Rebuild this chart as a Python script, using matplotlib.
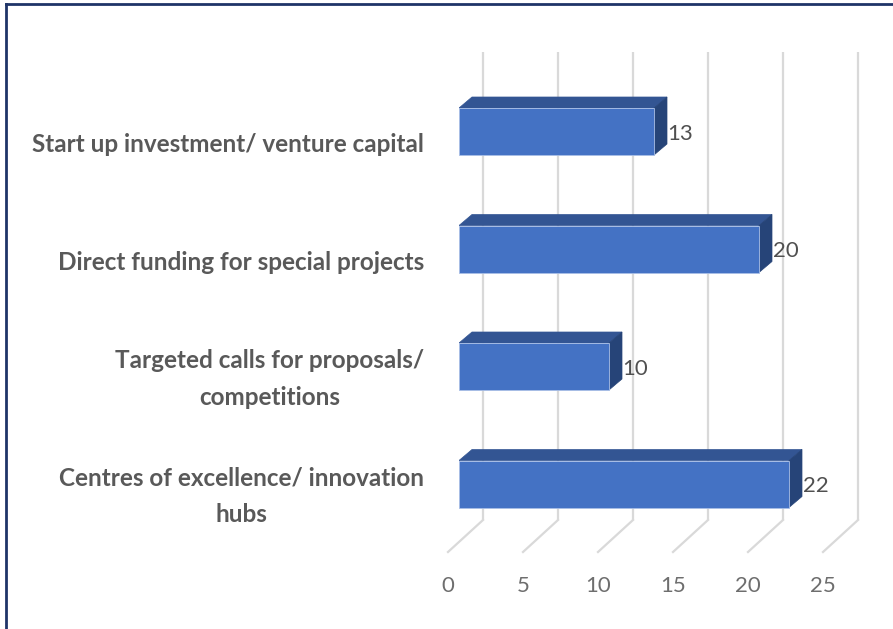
import matplotlib
matplotlib.use('Agg')
import matplotlib.pyplot as plt
from matplotlib.lines import Line2D
from matplotlib.patches import Polygon
from matplotlib.transforms import ScaledTranslation

categories = ['Centres of excellence/ innovation\nhubs',
              'Targeted calls for proposals/\ncompetitions',
              'Direct funding for special projects',
              'Start up investment/ venture capital']
values = [22, 10, 20, 13]
xticks = [0, 5, 10, 15, 20, 25]

plt.rcParams['font.family'] = ['Lato', 'DejaVu Sans']

W, H = 893, 629
px_x = 15.0      # pixels per unit
px_y = 117.5     # pixels per category
left, right, top, bottom = 459, 859, 52, 520

fig = plt.figure(figsize=(W / 100, H / 100), dpi=100)
ax = fig.add_axes([left / W, 1 - bottom / H, (right - left) / W, (bottom - top) / H])
ax.set_xlim(0, (right - left) / px_x)
ax.set_ylim(-(bottom - 484) / px_y, (484 - top) / px_y)
for s in ax.spines.values():
    s.set_visible(False)
ax.patch.set_visible(False)

# 3d look, depth of the bars and floor in pixels
depth_x, depth_y = 13 / px_x, 11 / px_y
bar_h = 47 / px_y
back = ax.transData + ScaledTranslation(24 / 100, 0, fig.dpi_scale_trans)
floor = ax.transData + ScaledTranslation(-11 / 100, -32 / 100, fig.dpi_scale_trans)

for t in xticks:
    # wall line then floor line
    ax.plot([t, t], [ax.get_ylim()[0], ax.get_ylim()[1]], color='#d9d9d9', lw=1.6,
            transform=back, clip_on=False, zorder=1, solid_capstyle='butt')
    x0, y0 = back.transform((t, ax.get_ylim()[0]))
    x1, y1 = floor.transform((t, ax.get_ylim()[0]))
    fig.add_artist(Line2D([x0 / W, x1 / W], [y0 / H, y1 / H], color='#d9d9d9', lw=1.6,
                          transform=fig.transFigure, zorder=1))

for i, v in enumerate(values):
    y0, y1 = i - bar_h / 2, i + bar_h / 2
    ax.add_patch(Polygon([(0, y1), (depth_x, y1 + depth_y), (v + depth_x, y1 + depth_y), (v, y1)],
                         facecolor='#335593', edgecolor='#335593', lw=0.5, zorder=3))
    ax.add_patch(Polygon([(v, y0), (v + depth_x, y0 + depth_y), (v + depth_x, y1 + depth_y), (v, y1)],
                         facecolor='#264478', edgecolor='#264478', lw=0.5, zorder=3))
    ax.barh(i, v, height=bar_h, color='#4472c4', edgecolor='#a9bfe6', lw=0.6, zorder=4)
    ax.annotate(str(v), (v + depth_x, i), xytext=(0.5, -1.5), textcoords='offset points',
                va='center', ha='left', fontsize=16, color='#505050', zorder=5)

ax.set_yticks(range(len(categories)))
ax.set_yticklabels(categories, fontsize=17.5, fontweight='bold', color='#595959',
                   multialignment='center', linespacing=1.7)
ax.tick_params(axis='y', length=0, pad=35 * 0.72)
for lab in ax.get_yticklabels():
    # the two line labels sit higher than the single line ones
    drop = 4 if '\n' in lab.get_text() else 11
    lab.set_transform(lab.get_transform() + ScaledTranslation(0, -drop / 100, fig.dpi_scale_trans))

ax.set_xticks(xticks)
ax.set_xticklabels([str(t) for t in xticks], fontsize=16, color='#6e6e6e')
ax.tick_params(axis='x', length=0, pad=56 * 0.72)
shift = ScaledTranslation(-11 / 100, 0, fig.dpi_scale_trans)
for lab in ax.get_xticklabels():
    lab.set_transform(lab.get_transform() + shift)

# frame of the screenshot, only top and left are visible
fig.add_artist(Line2D([6 / W, 6 / W], [0, 1 - 4 / H], color='#1f3468', lw=2))
fig.add_artist(Line2D([6 / W, 1], [1 - 4 / H, 1 - 4 / H], color='#1f3468', lw=2))

fig.savefig('out.png', dpi=100)
